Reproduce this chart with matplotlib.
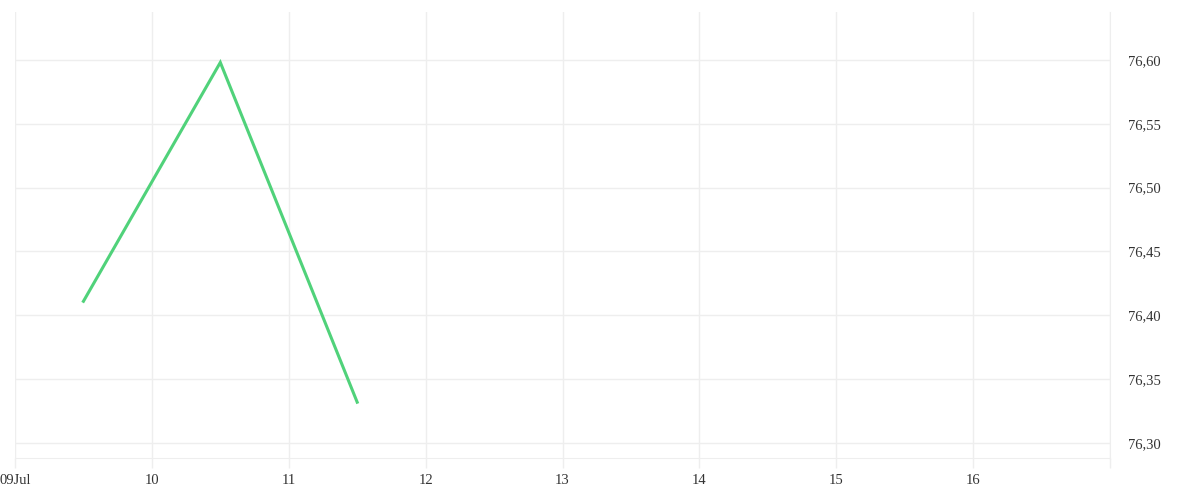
import datetime as dt
import matplotlib
matplotlib.use("Agg")
import matplotlib.pyplot as plt
import matplotlib.dates as mdates
from matplotlib.ticker import FixedLocator, FuncFormatter

# data
dates = [dt.datetime(2024, 7, 9, 12), dt.datetime(2024, 7, 10, 12), dt.datetime(2024, 7, 11, 12)]
values = [76.411, 76.598, 76.332]
y_ticks = [76.30, 76.35, 76.40, 76.45, 76.50, 76.55, 76.60]
x_days = [dt.datetime(2024, 7, d) for d in range(9, 18)]

plt.rcParams['font.family'] = ['Liberation Serif', 'DejaVu Serif']

grid_c = '#eeeeee'
fig = plt.figure(figsize=(12, 5), dpi=100)
ax = fig.add_axes([15 / 1200, 42 / 500, 1095 / 1200, 446 / 500])

ax.plot(dates, values, color='#50d27a', lw=2.2, solid_joinstyle='miter')

ax.set_xlim(x_days[0], x_days[-1])
ax.set_ylim(76.2883, 76.6375)

ax.xaxis.set_major_locator(FixedLocator(mdates.date2num(x_days)))
def fmt_x(v, pos):
    d = mdates.num2date(v)
    if d.day == 17:
        return ''
    if d.day == 9:
        return d.strftime('%d%b')
    return d.strftime('%d')
ax.xaxis.set_major_formatter(FuncFormatter(fmt_x))

ax.yaxis.tick_right()
ax.set_yticks(y_ticks)
ax.set_yticklabels([f"{v:.2f}".replace('.', ',') for v in y_ticks])

ax.grid(True, color=grid_c, lw=1)
ax.tick_params(axis='x', length=7.5, color=grid_c, width=1, labelsize=10.5, labelcolor='#333333', pad=4)
ax.tick_params(axis='y', length=0, labelsize=10.5, labelcolor='#333333', pad=13)

for s in ['top', 'left']:
    ax.spines[s].set_visible(False)
ax.spines['bottom'].set_color(grid_c)
ax.spines['right'].set_color(grid_c)

fig.savefig('out.png', dpi=100)
